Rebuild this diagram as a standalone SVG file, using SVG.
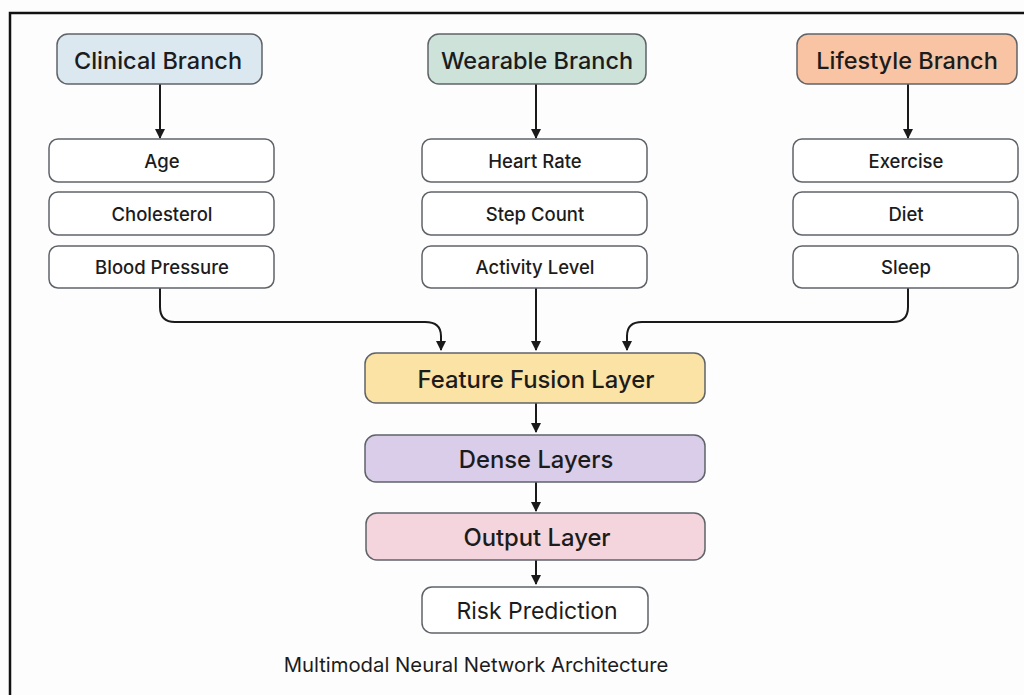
<svg xmlns="http://www.w3.org/2000/svg" width="1024" height="695" viewBox="0 0 1024 695">
  <defs>
    <marker id="arrow" viewBox="0 0 10 10" refX="9" refY="5" markerWidth="10" markerHeight="10" markerUnits="userSpaceOnUse" orient="auto">
      <path d="M0,0 L10,5 L0,10 Z" fill="#1a1a1a"/>
    </marker>
    <style>
      .box { stroke: #5f6368; stroke-width: 1.5; }
      .plain { fill: #ffffff; }
      .head { font-family: Inter, "Noto Sans", sans-serif; font-size: 23.5px; font-weight: 500; fill: #1c1c1c; text-anchor: middle; dominant-baseline: central; }
      .item { font-family: Inter, "Noto Sans", sans-serif; font-size: 18.5px; font-weight: 500; fill: #1c1c1c; text-anchor: middle; dominant-baseline: central; }
      .layer { font-family: Inter, "Noto Sans", sans-serif; font-size: 23.8px; font-weight: 500; fill: #1c1c1c; text-anchor: middle; dominant-baseline: central; }
      .caption { font-family: Inter, "Noto Sans", sans-serif; font-size: 20.3px; font-weight: 400; fill: #1c1c1c; text-anchor: middle; }
      .link { fill: none; stroke: #1a1a1a; stroke-width: 2; marker-end: url(#arrow); }
    </style>
  </defs>

  <!-- page background and frame -->
  <rect x="0" y="0" width="1024" height="695" fill="#fdfdfd"/>
  <path d="M10,695 V13 H1024" fill="none" stroke="#111" stroke-width="2.5"/>

  <!-- connectors -->
  <g id="connectors">
    <line class="link" x1="160" y1="84" x2="160" y2="138"/>
    <line class="link" x1="536" y1="84" x2="536" y2="138"/>
    <line class="link" x1="908" y1="84" x2="908" y2="138"/>
    <path class="link" d="M160,288 V307 Q160,322 175,322 H425 Q441,322 441,336 V350"/>
    <line class="link" x1="536" y1="288" x2="536" y2="350"/>
    <path class="link" d="M908,288 V307 Q908,322 893,322 H642 Q627,322 627,336 V350"/>
    <line class="link" x1="536" y1="403" x2="536" y2="432"/>
    <line class="link" x1="536" y1="482" x2="536" y2="511"/>
    <line class="link" x1="536" y1="560" x2="536" y2="584"/>
  </g>

  <!-- branch heads -->
  <g id="clinical-branch">
    <rect class="box" x="57" y="34" width="205" height="50" rx="11" fill="#dce8f0"/>
    <text class="head" x="158" y="60">Clinical Branch</text>
  </g>
  <g id="wearable-branch">
    <rect class="box" x="428" y="34" width="218" height="50" rx="11" fill="#cde3da"/>
    <text class="head" x="537" y="60">Wearable Branch</text>
  </g>
  <g id="lifestyle-branch">
    <rect class="box" x="797" y="34" width="220" height="50" rx="11" fill="#f8c4a4"/>
    <text class="head" x="907" y="60">Lifestyle Branch</text>
  </g>

  <!-- clinical inputs -->
  <g id="age">
    <rect class="box plain" x="49" y="139" width="225" height="43" rx="9"/>
    <text class="item" x="162" y="161">Age</text>
  </g>
  <g id="cholesterol">
    <rect class="box plain" x="49" y="192" width="225" height="43" rx="9"/>
    <text class="item" x="162" y="214">Cholesterol</text>
  </g>
  <g id="blood-pressure">
    <rect class="box plain" x="49" y="246" width="225" height="42" rx="9"/>
    <text class="item" x="162" y="267">Blood Pressure</text>
  </g>

  <!-- wearable inputs -->
  <g id="heart-rate">
    <rect class="box plain" x="422" y="139" width="225" height="43" rx="9"/>
    <text class="item" x="535" y="161">Heart Rate</text>
  </g>
  <g id="step-count">
    <rect class="box plain" x="422" y="192" width="225" height="43" rx="9"/>
    <text class="item" x="535" y="214">Step Count</text>
  </g>
  <g id="activity-level">
    <rect class="box plain" x="422" y="246" width="225" height="42" rx="9"/>
    <text class="item" x="535" y="267">Activity Level</text>
  </g>

  <!-- lifestyle inputs -->
  <g id="exercise">
    <rect class="box plain" x="793" y="139" width="225" height="43" rx="9"/>
    <text class="item" x="906" y="161">Exercise</text>
  </g>
  <g id="diet">
    <rect class="box plain" x="793" y="192" width="225" height="43" rx="9"/>
    <text class="item" x="906" y="214">Diet</text>
  </g>
  <g id="sleep">
    <rect class="box plain" x="793" y="246" width="225" height="42" rx="9"/>
    <text class="item" x="906" y="267">Sleep</text>
  </g>

  <!-- shared trunk -->
  <g id="feature-fusion">
    <rect class="box" x="365" y="353" width="340" height="50" rx="11" fill="#fae3a4"/>
    <text class="layer" x="536" y="379">Feature Fusion Layer</text>
  </g>
  <g id="dense-layers">
    <rect class="box" x="365" y="435" width="340" height="47" rx="11" fill="#d9cde9"/>
    <text class="layer" x="536" y="459">Dense Layers</text>
  </g>
  <g id="output-layer">
    <rect class="box" x="366" y="513" width="339" height="47" rx="11" fill="#f4d5dd"/>
    <text class="layer" x="537" y="537">Output Layer</text>
  </g>
  <g id="risk-prediction">
    <rect class="box plain" x="422" y="587" width="226" height="46" rx="10"/>
    <text class="layer" x="537" y="611" style="font-weight:400;font-size:23px">Risk Prediction</text>
  </g>

  <text class="caption" x="476" y="672">Multimodal Neural Network Architecture</text>
</svg>
